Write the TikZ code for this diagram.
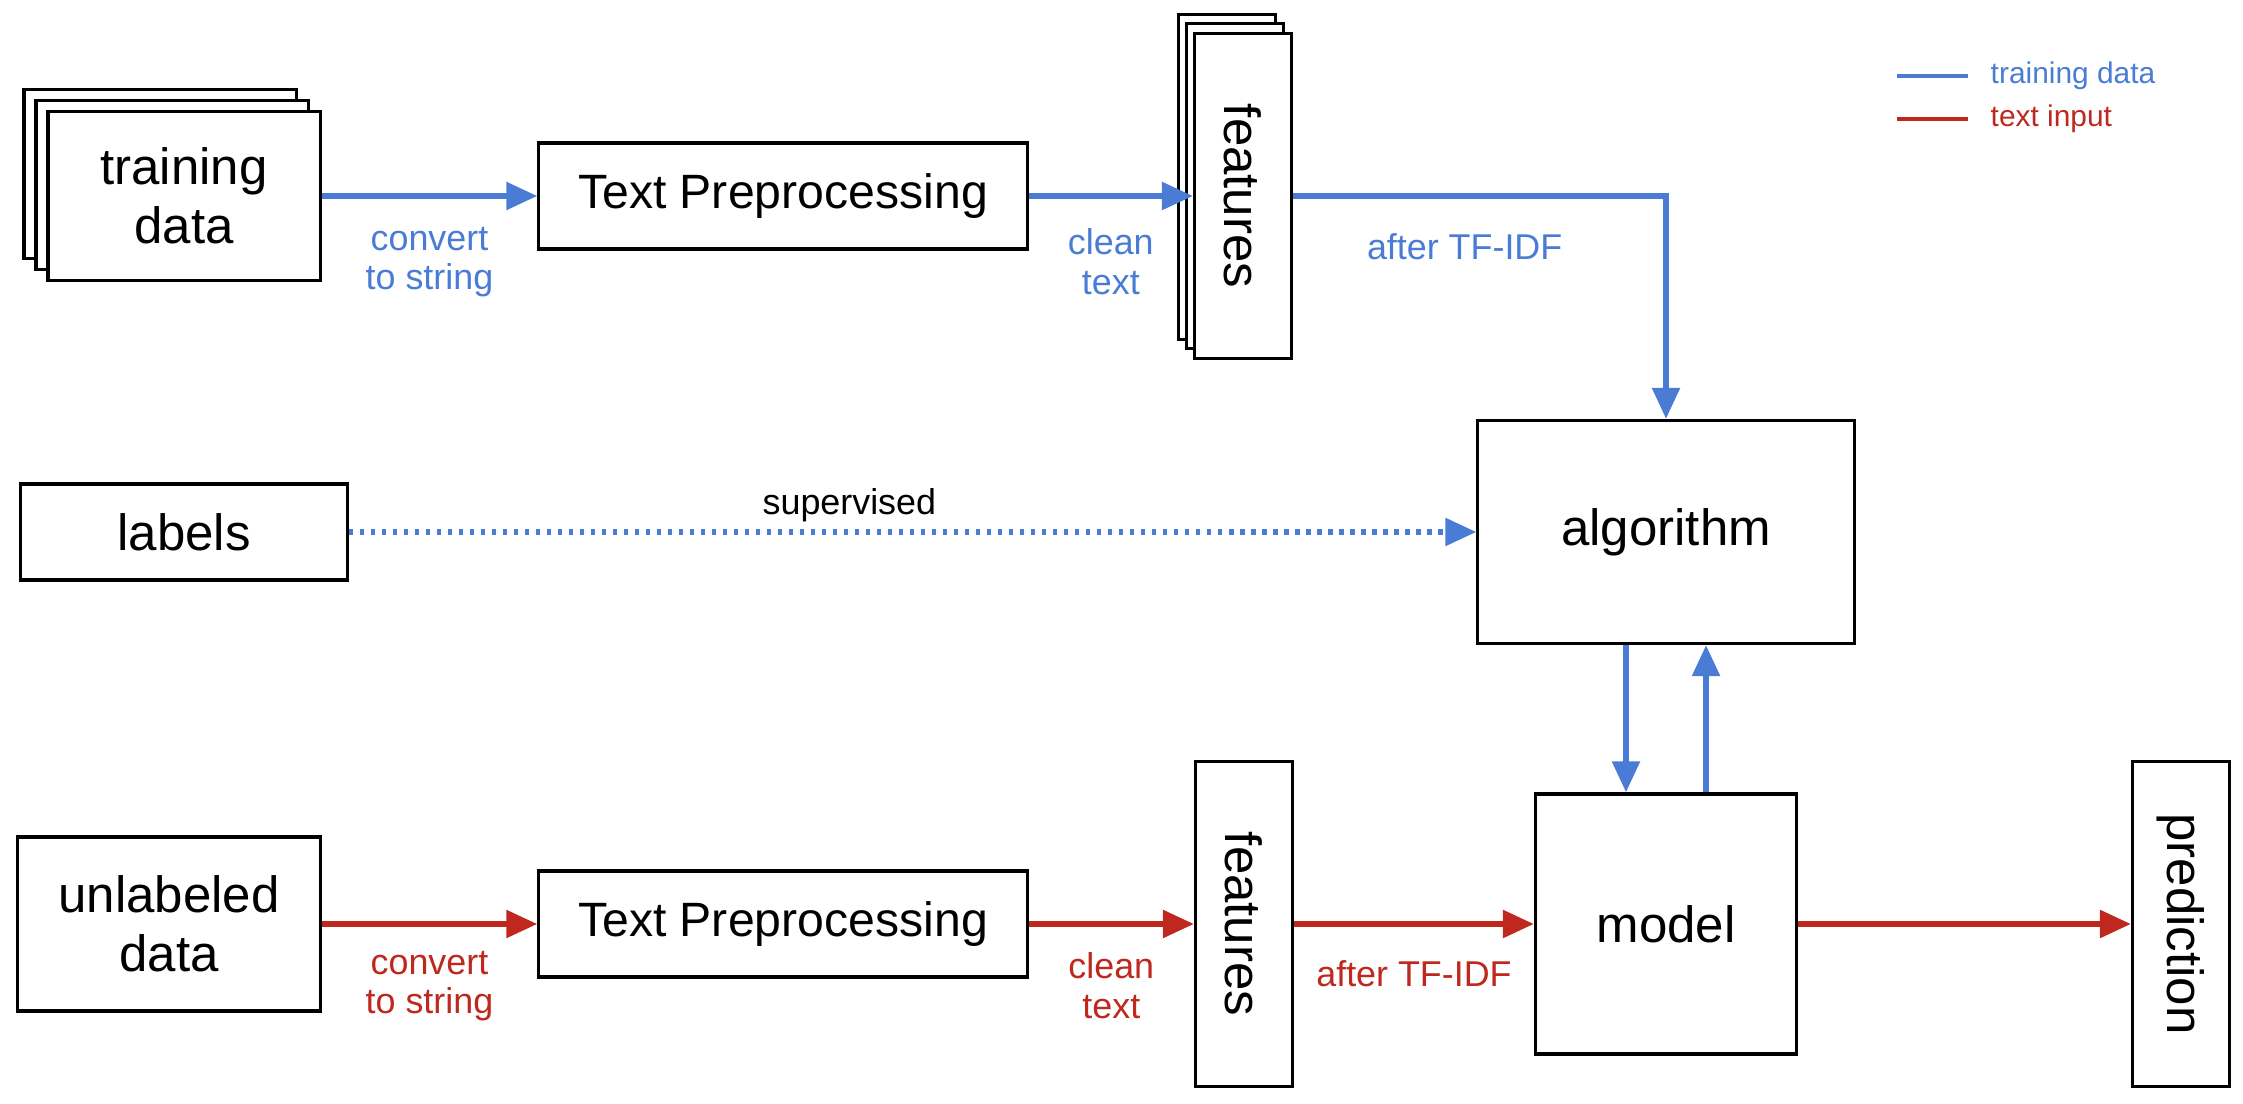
\documentclass[tikz,border=0pt]{standalone}
\usepackage{fontspec}
\setmainfont{Liberation Sans}
\usepackage{graphicx}
\usetikzlibrary{arrows.meta,calc,positioning}
\definecolor{trainblue}{RGB}{74,124,214}
\definecolor{inputred}{RGB}{190,40,30}

\begin{document}
\begin{tikzpicture}
	[x=0.01cm,y=-0.01cm,>={Triangle[length=0.31cm,width=0.27cm]},
	box/.style={draw,line width=0.9pt,fill=white,inner sep=0pt,align=center,
	font=\fontsize{14.5}{16.8}\selectfont},
	stackbox/.style={box,minimum width=2.72cm,minimum height=1.69cm},
	featbox/.style={box,minimum width=0.97cm,minimum height=3.24cm},
	prepbox/.style={box,minimum width=4.88cm,minimum height=1.06cm,
	font=\fontsize{13.7}{16}\selectfont},
	flow/.style={->,line width=1.6pt},
	lbl/.style={font=\fontsize{10.2}{11.3}\selectfont,align=center},
	legend/.style={anchor=west,inner sep=0pt,font=\fontsize{8.5}{10}\selectfont}]
	\useasboundingbox (0,0) rectangle (2243,1104);

	\node[stackbox] (td3) at (160,174) {};
	\node[stackbox] (td2) at (172,185) {};
	\node[stackbox] (td) at (184,196) {training\\data};
	\node[prepbox] (tp1) at (783,196) {Text Preprocessing};
	\node[featbox] (f3) at (1227,177) {};
	\node[featbox] (f2) at (1235,186) {};
	\node[featbox] (f1) at (1243,196) {\rotatebox{-90}{features}};
	\node[box,minimum width=3.76cm,minimum height=2.23cm] (algo) at (1666,532) {algorithm};
	\node[box,minimum width=3.26cm,minimum height=0.96cm] (lab) at (184,532) {labels};
	\node[box,minimum width=3.02cm,minimum height=1.74cm] (ud) at (169,924) {unlabeled\\data};
	\node[prepbox] (tp2) at (783,924) {Text Preprocessing};
	\node[featbox] (f4) at (1244,924) {\rotatebox{-90}{features}};
	\node[box,minimum width=2.61cm,minimum height=2.60cm] (model) at (1666,924) {model};
	\node[featbox] (pred) at (2181,924) {\rotatebox{-90}{prediction}};

	\draw[flow,trainblue] (td) -- node[lbl,yshift=-0.66cm] {convert\\to string} (tp1);
	\draw[flow,trainblue] (tp1) -- node[lbl,yshift=-0.66cm] {clean\\text} (f1);
	\draw[flow,trainblue] (f1) -| node[lbl,pos=0.23,yshift=-0.51cm] {after TF-IDF} (algo);
	\draw[flow,trainblue,dash pattern=on 0.043cm off 0.067cm] (lab) --
		node[lbl,text=black,pos=0.444,yshift=0.27cm] {supervised} (algo);
	\draw[flow,trainblue] ([xshift=-0.4cm]algo.south) -- ([xshift=-0.4cm]model.north);
	\draw[flow,trainblue] ([xshift=0.4cm]model.north) -- ([xshift=0.4cm]algo.south);

	\draw[flow,inputred] (ud) -- node[lbl,yshift=-0.62cm] {convert\\to string} (tp2);
	\draw[flow,inputred] (tp2) -- node[lbl,yshift=-0.62cm] {clean\\text} (f4);
	\draw[flow,inputred] (f4) -- node[lbl,yshift=-0.5cm] {after TF-IDF} (model);
	\draw[flow,inputred] (model) -- (pred);

	\node[legend,text=trainblue] (lgtrain) at (1990,76) {training data};
	\node[legend,text=inputred] (lginput) at (1990,119) {text input};
	\coordinate (lg1) at (1897,76);
	\coordinate (lg2) at (1897,119);
	\draw[trainblue,line width=1.3pt] (lg1) -- ([xshift=-0.22cm]lgtrain.west);
	\draw[inputred,line width=1.3pt] (lg2) -- ([xshift=-0.22cm]lginput.west);
\end{tikzpicture}
\end{document}
